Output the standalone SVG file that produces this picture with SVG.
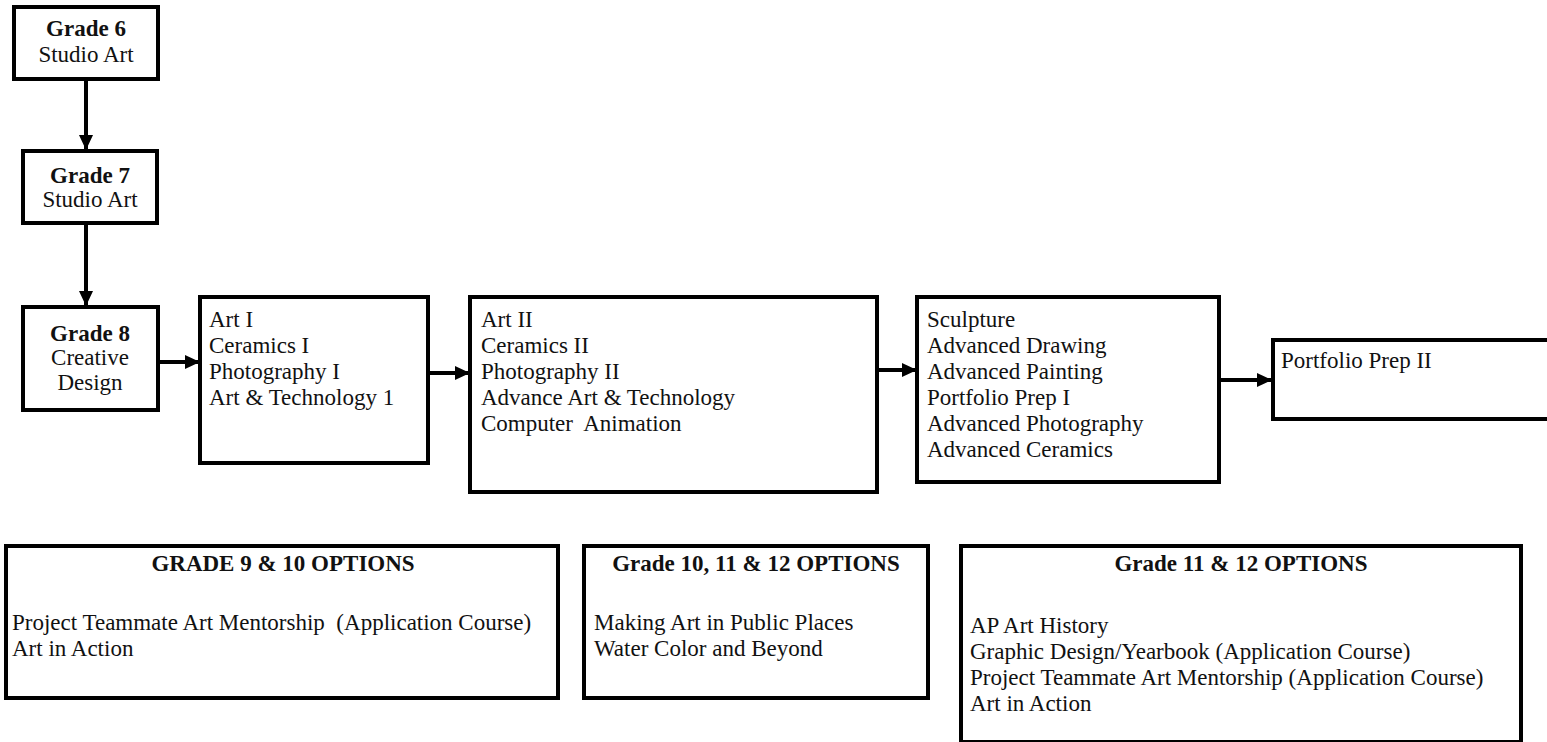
<svg xmlns="http://www.w3.org/2000/svg" width="1547" height="742" viewBox="0 0 1547 742">
<defs>
<style>
.box{fill:#fff;stroke:#000;stroke-width:4}
.t{font-family:"Liberation Serif","Times New Roman",serif;font-size:23px;fill:#111}
.b{font-weight:bold}
.c{text-anchor:middle}
.conn{stroke:#000;stroke-width:4;fill:none}
</style>
<marker id="ah" markerUnits="userSpaceOnUse" markerWidth="16" markerHeight="16" refX="14" refY="8" orient="auto">
<path d="M0,1 L15,8 L0,15 Z" fill="#000"/>
</marker>
</defs>
<rect width="1547" height="742" fill="#fff"/>
<g id="connectors">
<line class="conn" x1="86" y1="79" x2="86" y2="149" marker-end="url(#ah)"/>
<line class="conn" x1="86" y1="223" x2="86" y2="305" marker-end="url(#ah)"/>
<line class="conn" x1="158" y1="362" x2="199" y2="362" marker-end="url(#ah)"/>
<line class="conn" x1="428" y1="373" x2="469" y2="373" marker-end="url(#ah)"/>
<line class="conn" x1="877" y1="370" x2="916" y2="370" marker-end="url(#ah)"/>
<line class="conn" x1="1219" y1="380" x2="1271" y2="380" marker-end="url(#ah)"/>
</g>
<g id="grade6">
<rect class="box" x="14" y="7" width="144" height="72"/>
<text class="t b c" x="86" y="36">Grade 6</text>
<text class="t c" x="86" y="62">Studio Art</text>
</g>
<g id="grade7">
<rect class="box" x="23" y="151" width="134" height="72"/>
<text class="t b c" x="90" y="183">Grade 7</text>
<text class="t c" x="90" y="207">Studio Art</text>
</g>
<g id="grade8">
<rect class="box" x="23" y="307" width="135" height="103"/>
<text class="t b c" x="90" y="341">Grade 8</text>
<text class="t c" x="90" y="365">Creative</text>
<text class="t c" x="90" y="390">Design</text>
</g>
<g id="level1">
<rect class="box" x="200" y="297" width="228" height="166"/>
<text class="t" x="209" y="327">Art I</text>
<text class="t" x="209" y="353">Ceramics I</text>
<text class="t" x="209" y="379">Photography I</text>
<text class="t" x="209" y="405">Art &amp; Technology 1</text>
</g>
<g id="level2">
<rect class="box" x="470" y="297" width="407" height="195"/>
<text class="t" x="481" y="327">Art II</text>
<text class="t" x="481" y="353">Ceramics II</text>
<text class="t" x="481" y="379">Photography II</text>
<text class="t" x="481" y="405">Advance Art &amp; Technology</text>
<text class="t" x="481" y="431" xml:space="preserve">Computer  Animation</text>
</g>
<g id="level3">
<rect class="box" x="917" y="297" width="302" height="185"/>
<text class="t" x="927" y="327">Sculpture</text>
<text class="t" x="927" y="353">Advanced Drawing</text>
<text class="t" x="927" y="379">Advanced Painting</text>
<text class="t" x="927" y="405">Portfolio Prep I</text>
<text class="t" x="927" y="431">Advanced Photography</text>
<text class="t" x="927" y="457">Advanced Ceramics</text>
</g>
<g id="level4">
<rect class="box" x="1273" y="340" width="290" height="79"/>
<text class="t" x="1281" y="368">Portfolio Prep II</text>
</g>
<g id="options-9-10">
<rect class="box" x="6" y="546" width="552" height="152"/>
<text class="t b c" x="283" y="571">GRADE 9 &amp; 10 OPTIONS</text>
<text class="t" x="12" y="630" xml:space="preserve">Project Teammate Art Mentorship  (Application Course)</text>
<text class="t" x="12" y="656">Art in Action</text>
</g>
<g id="options-10-12">
<rect class="box" x="584" y="546" width="344" height="152"/>
<text class="t b c" x="756" y="571">Grade 10, 11 &amp; 12 OPTIONS</text>
<text class="t" x="594" y="630">Making Art in Public Places</text>
<text class="t" x="594" y="656">Water Color and Beyond</text>
</g>
<g id="options-11-12">
<rect class="box" x="961" y="546" width="560" height="196"/>
<text class="t b c" x="1241" y="571">Grade 11 &amp; 12 OPTIONS</text>
<text class="t" x="970" y="633">AP Art History</text>
<text class="t" x="970" y="659">Graphic Design/Yearbook (Application Course)</text>
<text class="t" x="970" y="685">Project Teammate Art Mentorship (Application Course)</text>
<text class="t" x="970" y="711">Art in Action</text>
</g>
</svg>
